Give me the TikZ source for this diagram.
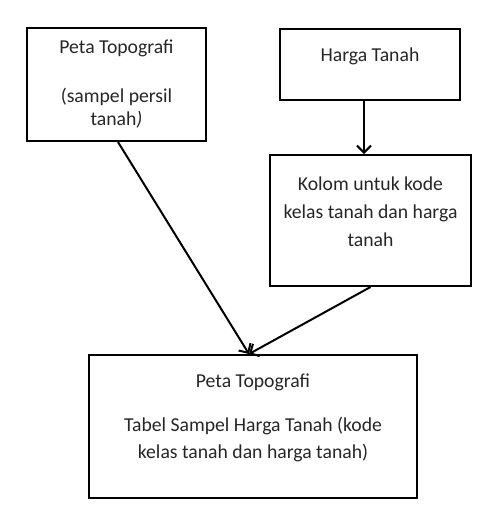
\documentclass[tikz,border=0pt]{standalone}
\usepackage{fontspec}
\setmainfont{Carlito}
\usetikzlibrary{arrows.meta}
\begin{document}
\begin{tikzpicture}[x=1pt,y=-1pt,
 box/.style={draw, line width=2pt, inner sep=0pt},
 txt/.style={align=center, inner sep=0pt, text=black!85},
 arr/.style={line width=2pt, -{Straight Barb[length=7pt,width=14pt]}}]
\useasboundingbox (0,0) rectangle (495,520);
\node[box, minimum width=179pt, minimum height=113pt] (a) at (116.5,84.5) {};
\node[box, minimum width=180pt, minimum height=71pt] (b) at (370,64.5) {};
\node[box, minimum width=201pt, minimum height=131pt] (c) at (370.5,220.5) {};
\node[box, minimum width=328pt, minimum height=143pt] (d) at (253,426.5) {};
\node[txt, font=\fontsize{19.7}{23}\selectfont] (ta) at (116.5,84) {Peta Topografi\\[26pt](sampel persil\\tanah\textit{)}};
\node[txt, font=\fontsize{19.7}{23}\selectfont] (tb) at (370,56) {Harga Tanah};
\node[txt, font=\fontsize{19.7}{28}\selectfont] (tc) at (370.5,212) {Kolom untuk kode\\kelas tanah dan harga\\tanah};
\node[txt, font=\fontsize{19.7}{27}\selectfont] (td) at (253,417.5) {Peta Topografi\\[17pt]Tabel Sampel Harga Tanah (kode\\kelas tanah dan harga tanah)};
\draw[arr] ([xshift=1.5pt]a.south) -- ([xshift=-4pt]d.north);
\draw[arr] ([xshift=-6pt]b.south) -- ([xshift=-6.5pt]c.north);
\draw[arr] (c.south) -- ([xshift=-4pt]d.north);
\end{tikzpicture}
\end{document}
